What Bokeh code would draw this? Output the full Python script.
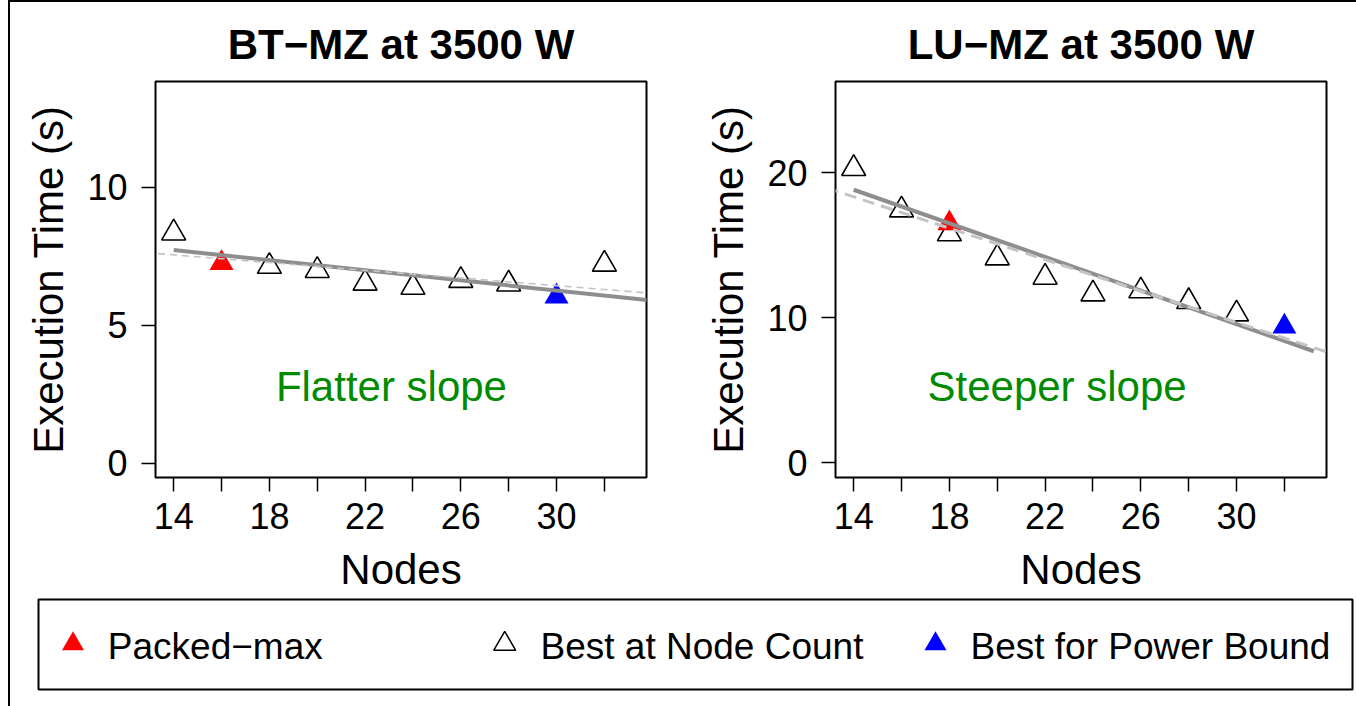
from bokeh.plotting import figure
from bokeh.models import Range1d, FixedTicker, Label, Slope, Spacer, Title
from bokeh.layouts import row, column
from bokeh.embed import file_html
from bokeh.resources import INLINE
from bokeh.core.properties import value

FONT = "Liberation Sans"

# ---------------- data ----------------
node_major_ticks = [14, 18, 22, 26, 30]
node_minor_ticks = [16, 20, 24, 28, 32]

bt_y_ticks = [0, 5, 10]
lu_y_ticks = [0, 10, 20]

# BT-MZ at 3500 W
bt_best_nodes = [14, 18, 20, 22, 24, 26, 28, 32]
bt_best_time = [8.35, 7.14, 6.99, 6.53, 6.38, 6.63, 6.50, 7.22]
bt_packed_nodes = [16]
bt_packed_time = [7.26]
bt_bound_nodes = [30]
bt_bound_time = [6.05]
bt_fit_nodes = [14, 34]
bt_fit_time = [7.73, 5.90]
bt_trend_slope = -0.0697
bt_trend_intercept = 8.533

# LU-MZ at 3500 W
lu_best_nodes = [14, 16, 18, 20, 22, 24, 26, 28, 30]
lu_best_time = [20.28, 17.43, 15.78, 14.12, 12.79, 11.64, 11.85, 11.11, 10.26]
lu_packed_nodes = [18]
lu_packed_time = [16.51]
lu_bound_nodes = [32]
lu_bound_time = [9.39]
lu_fit_nodes = [14, 33.23]
lu_fit_time = [18.82, 7.69]
lu_trend_slope = -0.5405
lu_trend_intercept = 25.896

legend_labels = ["Packed\u2212max", "Best at Node Count", "Best for Power Bound"]


def make_panel(width, bl, br, title, yr, yticks, best_x, best_y, pk_x, pk_y,
               bd_x, bd_y, fit_x, fit_y, tr_slope, tr_int, note,
               note_pos, dash, dash_w):
    t = Title(text=title, align="center", standoff=28,
              text_font=FONT, text_font_size="42px", text_font_style="bold",
              text_color="black")
    p = figure(width=width, height=594, x_range=Range1d(13.24, 33.76),
               y_range=Range1d(*yr), toolbar_location=None,
               output_backend="svg", title=t,
               min_border_left=bl, min_border_right=br,
               min_border_top=79, min_border_bottom=119)
    p.xgrid.visible = False
    p.ygrid.visible = False
    p.outline_line_color = "black"
    p.outline_line_width = 2
    p.background_fill_color = "white"
    p.border_fill_color = "white"

    for ax in (p.xaxis[0], p.yaxis[0]):
        ax.axis_line_color = None
        ax.major_tick_out = 14
        ax.major_tick_in = 0
        ax.major_tick_line_width = 1.5
        ax.major_tick_line_color = "black"
        ax.minor_tick_out = 14
        ax.minor_tick_in = 0
        ax.minor_tick_line_width = 1.5
        ax.minor_tick_line_color = "black"
        ax.major_label_text_font = FONT
        ax.major_label_text_font_size = "36px"
        ax.major_label_text_color = "black"
        ax.axis_label_text_font = FONT
        ax.axis_label_text_font_size = "42px"
        ax.axis_label_text_font_style = "normal"
        ax.axis_label_text_color = "black"

    p.xaxis.ticker = FixedTicker(ticks=node_major_ticks, minor_ticks=node_minor_ticks)
    p.yaxis.ticker = FixedTicker(ticks=yticks, minor_ticks=[])
    p.xaxis.axis_label = "Nodes"
    p.yaxis.axis_label = "Execution Time (s)"
    p.xaxis.major_label_standoff = 11
    p.xaxis.axis_label_standoff = 14
    p.yaxis.major_label_standoff = 14
    p.yaxis.axis_label_standoff = 12

    # points
    p.scatter(best_x, best_y, marker="triangle", size=24, fill_color=None,
              line_color="black", line_width=1.6)
    p.scatter(pk_x, pk_y, marker="triangle", size=24, fill_color="#FF0000",
              line_color=None)
    p.scatter(bd_x, bd_y, marker="triangle", size=24, fill_color="#0000FF",
              line_color=None)

    # trend lines
    p.add_layout(Slope(gradient=tr_slope, y_intercept=tr_int,
                       line_color="#C4C4C4", line_width=dash_w, line_dash=dash))
    p.line(fit_x, fit_y, line_color="#8E8E8E", line_width=4)

    p.add_layout(Label(x=note_pos[0], y=note_pos[1], text=note,
                       text_align="center", text_baseline="middle",
                       text_font=FONT, text_font_size="42px",
                       text_color="#008B00"))
    return p


p1 = make_panel(668, 145, 32, "BT\u2212MZ at 3500 W", (-0.51, 13.84), bt_y_ticks,
                bt_best_nodes, bt_best_time, bt_packed_nodes, bt_packed_time,
                bt_bound_nodes, bt_bound_time, bt_fit_nodes, bt_fit_time,
                bt_trend_slope, bt_trend_intercept,
                "Flatter slope", (23.10, 2.77), "7 5", 1.6)
p2 = make_panel(678, 157, 30, "LU\u2212MZ at 3500 W", (-1.01, 26.28), lu_y_ticks,
                lu_best_nodes, lu_best_time, lu_packed_nodes, lu_packed_time,
                lu_bound_nodes, lu_bound_time, lu_fit_nodes, lu_fit_time,
                lu_trend_slope, lu_trend_intercept,
                "Steeper slope", (22.5, 5.23), "12 7", 3)

# legend panel (coordinates in canvas pixels)
p3 = figure(width=1346, height=110, x_range=Range1d(38, 1352),
            y_range=Range1d(689, 599), toolbar_location=None,
            output_backend="svg", title=None,
            x_axis_location=None, y_axis_location=None,
            min_border_left=28, min_border_right=4,
            min_border_top=3, min_border_bottom=17)
p3.grid.visible = False
p3.outline_line_color = "black"
p3.outline_line_width = 2
p3.scatter([72.5], [643.5], marker="triangle", size=22, fill_color="#FF0000", line_color=None)
p3.scatter([504.2], [643.5], marker="triangle", size=22, fill_color=None,
           line_color="black", line_width=1.5)
p3.scatter([935], [643.5], marker="triangle", size=22, fill_color="#0000FF", line_color=None)
p3.text(x=[107.3, 540, 970], y=[645.5, 645.5, 645.5], text=legend_labels,
        text_baseline="middle", text_align="left",
        text_font=value(FONT), text_font_size="37px", text_color="black")

left_gap = Spacer(width=8, height=706)
left_line = Spacer(width=2, height=706, styles={"background-color": "black"})
top_line = Spacer(width=1346, height=2, styles={"background-color": "black"})

layout = row(left_gap, left_line, column(top_line, row(p1, p2), p3))

open("out.html", "w").write(file_html(layout, INLINE))
